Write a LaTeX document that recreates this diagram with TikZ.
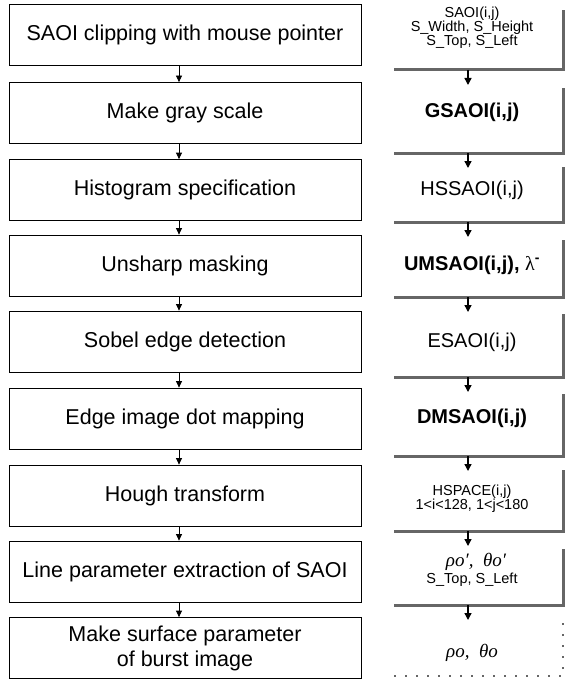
\documentclass[tikz,border=0pt]{standalone}
\usepackage{fontspec}
\setmainfont{Liberation Sans}
\newfontfamily\greekserif{Liberation Serif}
\usetikzlibrary{arrows.meta}
\begin{document}
\begin{tikzpicture}[x=1pt,y=-1pt,
  stepbox/.style={draw, line width=0.8pt, minimum width=352pt, minimum height=61pt,
    inner sep=0pt, align=center, font=\fontsize{21.5}{25}\selectfont},
  datatext/.style={inner sep=0pt, align=center, font=\fontsize{20}{24}\selectfont},
  smalltext/.style={inner sep=0pt, align=center, font=\fontsize{14.5}{14}\selectfont},
  flow/.style={line width=0.8pt, -{Triangle[length=6.5pt,width=6pt]}},
  dataflow/.style={line width=1.4pt, -{Triangle[length=7pt,width=7pt]}},
  frame/.style={draw=black!60, line width=3pt},
  lastframe/.style={draw=black!60, line width=1.5pt, dash pattern=on 2pt off 9pt},
]
\useasboundingbox (0,0) rectangle (569,682);

% processing steps
\node[stepbox] (b1) at (185,35)    {SAOI clipping with mouse pointer};
\node[stepbox] (b2) at (185,113)   {Make gray scale};
\node[stepbox] (b3) at (185,190)   {Histogram specification};
\node[stepbox] (b4) at (185,265.5) {Unsharp masking};
\node[stepbox] (b5) at (185,341.5) {Sobel edge detection};
\node[stepbox] (b6) at (185,418.5) {Edge image dot mapping};
\node[stepbox] (b7) at (185,495.5) {Hough transform};
\node[stepbox] (b8) at (185,571.5) {Line parameter extraction of SAOI};
\node[stepbox] (b9) at (185,648)   {Make surface parameter\\of burst image};

\foreach \a/\b in {b1/b2,b2/b3,b3/b4,b4/b5,b5/b6,b6/b7,b7/b8,b8/b9}
  \draw[flow] ([xshift=-6pt]\a.south) -- ([xshift=-6pt]\b.north);

% data produced by each step
\node[smalltext] (r1) at (472,28) {SAOI(i,j)\\S\_Width, S\_Height\\S\_Top, S\_Left};
\node[datatext, font=\fontsize{20}{24}\selectfont\bfseries] (r2) at (472,112) {GSAOI(i,j)};
\node[datatext] (r3) at (472,190) {HSSAOI(i,j)};
\node[datatext, font=\fontsize{20}{24}\selectfont\bfseries] (r4) at (472,265)
  {UMSAOI(i,j), {\mdseries\greekserif λ}\textsuperscript{-}};
\node[datatext] (r5) at (472,342) {ESAOI(i,j)};
\node[datatext, font=\fontsize{20}{24}\selectfont\bfseries] (r6) at (472,418) {DMSAOI(i,j)};
\node[smalltext] (r7) at (472,498.5) {HSPACE(i,j)\\1<i<128, 1<j<180};
\node[smalltext] (r8a) at (476,562) {\fontsize{19}{20}\selectfont\greekserif\itshape ρo′,\ \ θo′};
\node[smalltext] (r8b) at (472,580) {S\_Top, S\_Left};
\node[smalltext] (r9) at (472,653) {\fontsize{19}{20}\selectfont\greekserif\itshape ρo,\ \ θo};

% shadow frames under each data group
\foreach \k/\t/\bt in {1/10/70, 2/88/153, 3/167/222, 4/240/297, 5/314/377,
                       6/394/456, 7/470/531, 8/549/605} {
  \coordinate (fl\k) at (394,\bt);
  \coordinate (fc\k) at (563,\bt);
  \coordinate (ft\k) at (563,\t);
  \draw[frame] (fl\k) -- (fc\k) -- (ft\k);
  \coordinate (ds\k) at (468,\bt);
  \coordinate (de\k) at (468,\bt+15);
  \draw[dataflow] (ds\k) -- (de\k);
}
\coordinate (fl9) at (394,676);
\coordinate (fc9) at (563,676);
\coordinate (ft9) at (563,622);
\draw[lastframe] (fl9) -- (fc9) -- (ft9);
\end{tikzpicture}
\end{document}
